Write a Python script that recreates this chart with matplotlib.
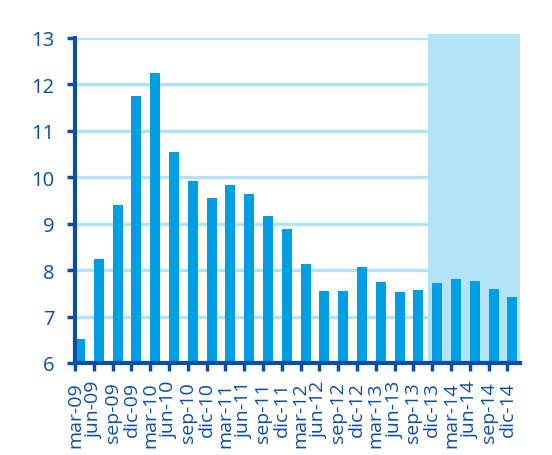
import matplotlib
matplotlib.use("Agg")
import matplotlib.pyplot as plt
from matplotlib.patches import Rectangle

# quarterly values, mar-09 .. dic-14
labels = ["mar-09", "jun-09", "sep-09", "dic-09",
          "mar-10", "jun-10", "sep-10", "dic-10",
          "mar-11", "jun-11", "sep-11", "dic-11",
          "mar-12", "jun-12", "sep-12", "dic-12",
          "mar-13", "jun-13", "sep-13", "dic-13",
          "mar-14", "jun-14", "sep-14", "dic-14"]
values = [6.52, 8.24, 9.40, 11.74,
          12.24, 10.54, 9.93, 9.55,
          9.83, 9.64, 9.17, 8.88,
          8.13, 7.56, 7.55, 8.06,
          7.74, 7.53, 7.57, 7.72,
          7.80, 7.77, 7.60, 7.42]
forecast_start = 18.78  # shaded projection area starts here

dark = "#0b4ea2"
bar_col = "#009fe3"
light = "#b3e3f7"

plt.rcParams["font.family"] = ["Open Sans", "DejaVu Sans"]

fig = plt.figure(figsize=(5.52, 4.56), dpi=100)
ax = fig.add_axes([0.136, 0.2018, 0.806, 0.7127])

x = list(range(len(labels)))
ax.bar(x, values, width=0.53, align="edge", color=bar_col, zorder=3)

ax.set_xlim(0, 23.67)
ax.set_ylim(6, 13)

# shaded area reaching a bit above the plot top
ax.add_patch(Rectangle((forecast_start, 6), 23.67 - forecast_start, 7.09,
                       facecolor=light, edgecolor="none", zorder=2, clip_on=False))

ax.set_yticks(range(6, 14))
for y in range(7, 14):
    ax.axhline(y, color=light, lw=2.5, zorder=1)

ax.set_xticks(x)
ax.set_xticklabels(labels, rotation=90)

for s in ["top", "right"]:
    ax.spines[s].set_visible(False)
for s in ["left", "bottom"]:
    ax.spines[s].set_color(dark)
    ax.spines[s].set_linewidth(3)
    ax.spines[s].set_zorder(4)

ax.tick_params(axis="both", colors=dark, width=2.5, length=6)
ax.tick_params(axis="y", labelsize=14.5, pad=9)
ax.tick_params(axis="x", labelsize=14, pad=7)

fig.savefig("out.png", dpi=100)
